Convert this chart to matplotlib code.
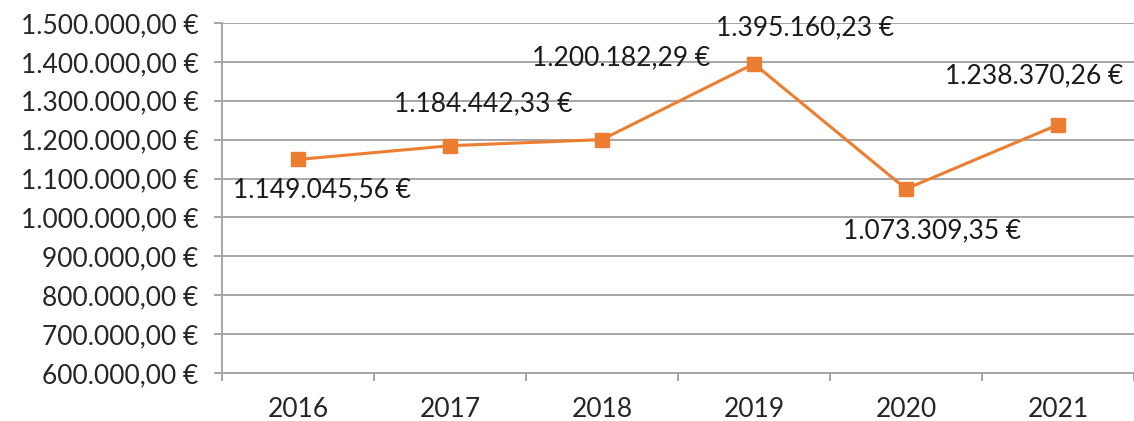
import numpy as np
import matplotlib
matplotlib.use("Agg")
from matplotlib import pyplot as plt
from matplotlib.ticker import FuncFormatter, FixedLocator

years = ["2016", "2017", "2018", "2019", "2020", "2021"]
values = [1149045.56, 1184442.33, 1200182.29, 1395160.23, 1073309.35, 1238370.26]
# label offsets in points (dx, dy) relative to each marker
label_offsets = [(17, -22), (24, 30), (14, 59), (37, 26), (19, -30), (-17, 35)]

plt.rcParams['font.family'] = ['Lato', 'DejaVu Sans']

def euro(v, pos=None):
    s = f"{v:,.2f}"
    s = s.replace(",", "X").replace(".", ",").replace("X", ".")
    return s + " €"

fig = plt.figure(figsize=(11.34, 4.21), dpi=100)
ax = fig.add_axes([222/1134, 48/421, 1 - 222/1134, 350/421])

x = np.arange(len(years))
ax.plot(x, values, color="#ED7D31", lw=2.2, marker="s", ms=9.5, zorder=3)

for xi, v, (dx, dy) in zip(x, values, label_offsets):
    ax.annotate(euro(v), (xi, v), xytext=(dx, dy), textcoords="offset points",
                ha="center", va="center", fontsize=19, color="#1a1a1a")

ax.set_xlim(-0.5, len(years) - 0.5)
ax.set_ylim(600000, 1500000)
ax.set_yticks(np.arange(600000, 1500001, 100000))
ax.yaxis.set_major_formatter(FuncFormatter(euro))
ax.set_xticks(x)
ax.set_xticklabels(years)
ax.xaxis.set_minor_locator(FixedLocator(np.arange(-0.5, len(years), 1)))

ax.grid(axis="y", color="#a6a6a6", lw=1.4)
ax.set_axisbelow(True)
for s in ["top", "right"]:
    ax.spines[s].set_visible(False)
for s in ["left", "bottom"]:
    ax.spines[s].set_color("#a6a6a6")
    ax.spines[s].set_linewidth(1.4)

ax.tick_params(axis="y", length=6, color="#a6a6a6", width=1.4, labelsize=19,
               labelcolor="#262626", pad=11)
ax.tick_params(axis="x", which="major", length=0, labelsize=19,
               labelcolor="#262626", pad=17)
ax.tick_params(axis="x", which="minor", length=6, color="#a6a6a6", width=1.4)

fig.savefig("out.png", dpi=100)
